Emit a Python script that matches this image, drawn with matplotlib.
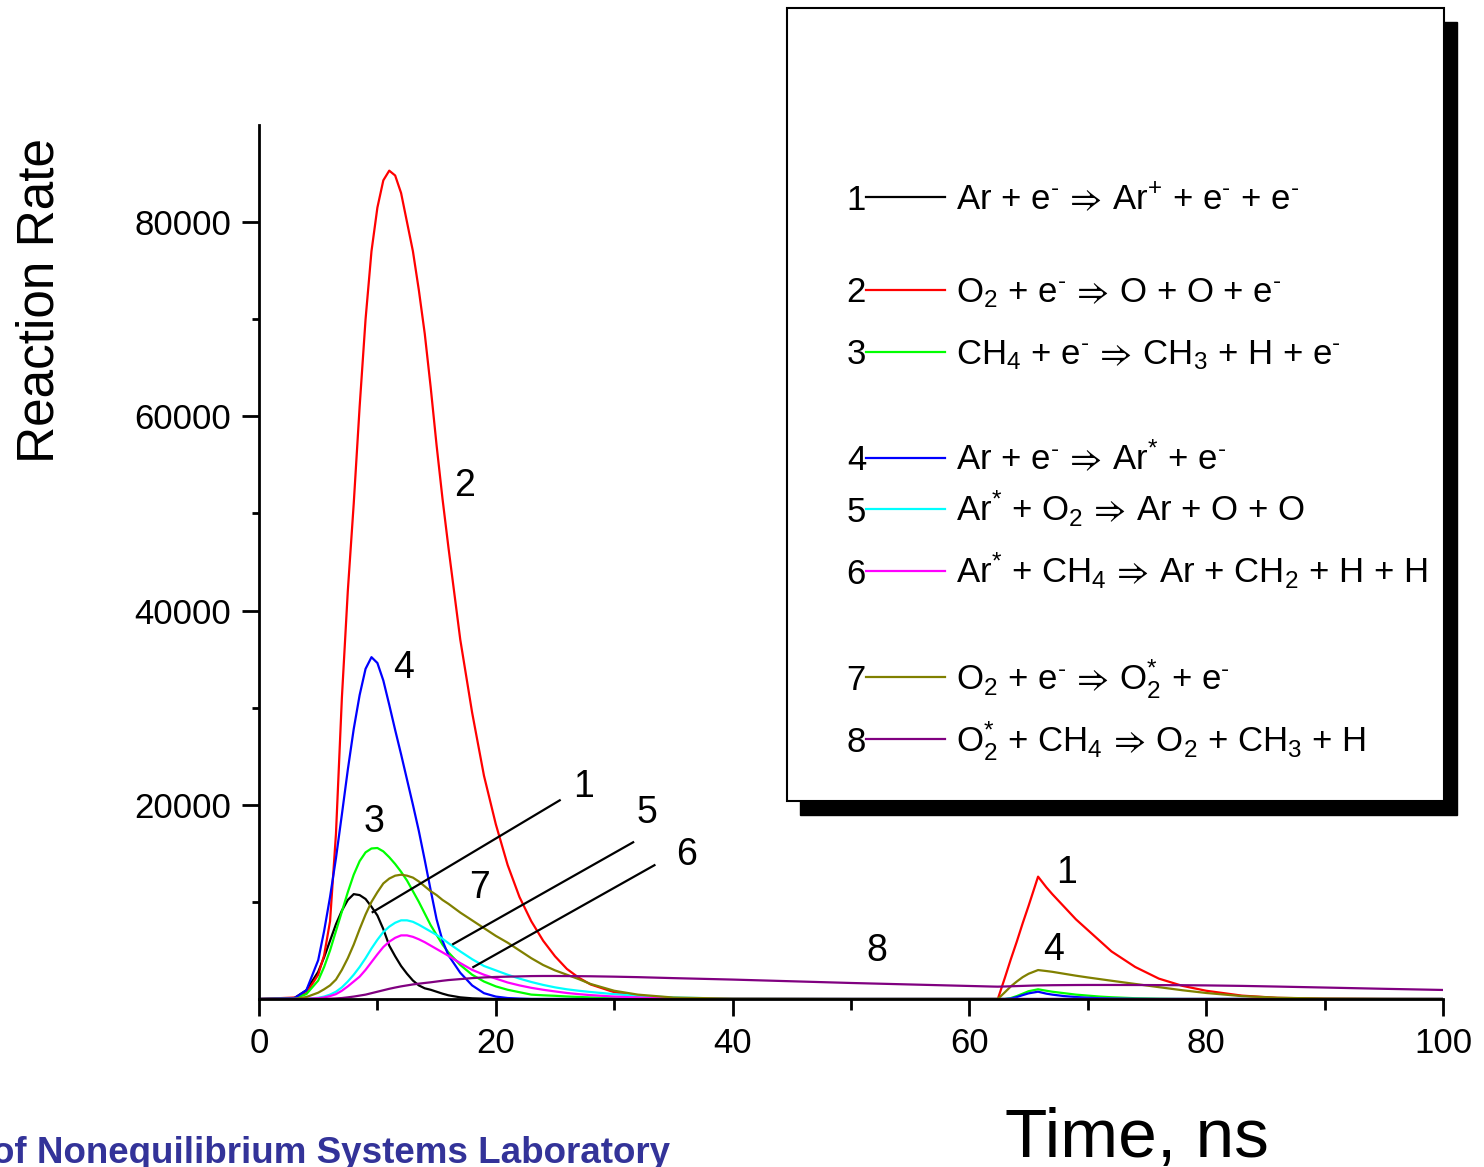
import matplotlib
matplotlib.use("Agg")
import matplotlib.pyplot as plt
from matplotlib.patches import Rectangle
from matplotlib.lines import Line2D

plt.rcParams['font.family'] = ['Liberation Sans', 'DejaVu Sans']
plt.rcParams['mathtext.fontset'] = 'custom'
plt.rcParams['mathtext.rm'] = 'Liberation Sans'
plt.rcParams['mathtext.it'] = 'Liberation Sans'
plt.rcParams['mathtext.default'] = 'regular'

# Tiempo (ns): primer pulso y segundo pulso
t_first = [0, 3, 4, 5, 5.5, 6, 6.5, 7, 7.5, 8,
           8.5, 9, 9.5, 10, 10.5, 11, 11.5, 12, 12.5, 13,
           13.5, 14, 14.5, 15, 15.5, 16, 17, 18, 19, 20,
           21, 22, 23, 24, 25, 26, 27, 28, 30, 32,
           35, 40, 50, 62]
t_second = [62.4, 63, 63.5, 64, 64.5, 65, 65.8, 66.5, 67, 68, 69, 70,
            71, 72, 74, 76, 78, 80, 83, 86, 90, 95, 100]
time = t_first + t_second

# Velocidades de reaccion
rate1 = [0, 100, 900, 2800, 4300, 6000, 7700, 9100, 10200, 10800,
         10700, 10300, 9500, 8600, 7200, 5500, 4400, 3400, 2600, 1900,
         1400, 1100, 950, 750, 550, 380, 170, 70, 30, 10,
         0, 0, 0, 0, 0, 0, 0, 0, 0, 0,
         0, 0, 0, 0] + [0] * 23
rate2 = [0, 150, 600, 2500, 4500, 8000, 17000, 31000, 42000, 51000,
         61000, 70000, 77000, 81500, 84300, 85300, 84800, 83000, 80000, 77000,
         73000, 68500, 63000, 57000, 51500, 46500, 37000, 29500, 23000, 18000,
         13800, 10500, 8000, 6000, 4400, 3100, 2200, 1500, 700, 300,
         100, 20, 0, 0] + \
        [0, 2200, 4100, 5900, 7800, 9600, 12600, 11500, 10800, 9500, 8200, 7100,
         6000, 4900, 3300, 2100, 1350, 850, 350, 120, 40, 10, 0]
rate3 = [0, 80, 500, 1900, 3300, 5000, 7000, 9000, 11000, 12800,
         14200, 15100, 15500, 15550, 15200, 14600, 13900, 13100, 12200, 11100,
         10000, 8800, 7600, 6600, 5600, 4800, 3500, 2500, 1800, 1300,
         950, 700, 450, 380, 330, 260, 210, 160, 90, 50,
         20, 0, 0, 0] + \
        [0, 0, 100, 300, 550, 800, 1000, 850, 750, 600, 450, 350,
         250, 180, 80, 30, 0, 0, 0, 0, 0, 0, 0]
rate4 = [0, 100, 900, 4000, 7000, 10500, 14500, 19000, 23600, 27800,
         31300, 34000, 35200, 34600, 32800, 30300, 27700, 25200, 22600, 20000,
         17300, 14300, 11200, 8200, 6000, 4500, 2700, 1400, 600, 250,
         100, 40, 0, 0, 0, 0, 0, 0, 0, 0,
         0, 0, 0, 0] + \
        [0, 0, 50, 200, 400, 580, 750, 550, 450, 300, 200, 130,
         80, 50, 15, 0, 0, 0, 0, 0, 0, 0, 0]
rate5 = [0, 10, 30, 120, 250, 450, 750, 1200, 1800, 2500,
         3300, 4200, 5200, 6100, 6900, 7450, 7850, 8100, 8100, 7950,
         7650, 7300, 6950, 6600, 6200, 5750, 4900, 4100, 3400, 2950,
         2500, 2100, 1750, 1450, 1200, 1000, 850, 720, 500, 330,
         150, 40, 0, 0] + [0] * 23
rate6 = [0, 5, 20, 80, 160, 300, 500, 850, 1300, 1800,
         2300, 3000, 3800, 4600, 5350, 5900, 6300, 6550, 6550, 6400,
         6150, 5850, 5500, 5150, 4800, 4450, 3700, 3000, 2500, 2100,
         1700, 1400, 1150, 950, 780, 620, 500, 400, 250, 150,
         70, 20, 0, 0] + [0] * 23
rate7 = [0, 20, 200, 650, 1000, 1400, 2000, 3000, 4200, 5600,
         7200, 8700, 10000, 11000, 11900, 12400, 12700, 12800, 12700, 12500,
         12100, 11600, 11100, 10700, 10200, 9800, 8900, 8100, 7300, 6500,
         5800, 5000, 4200, 3500, 2950, 2500, 2050, 1550, 850, 450,
         150, 30, 0, 0] + \
        [0, 700, 1300, 1800, 2250, 2600, 2980, 2880, 2800, 2600, 2400, 2220,
         2050, 1880, 1550, 1220, 900, 620, 300, 130, 40, 10, 0]
rate8 = [0, 0, 0, 10, 20, 30, 60, 100, 170, 250,
         350, 450, 600, 750, 900, 1050, 1180, 1300, 1400, 1500,
         1580, 1650, 1720, 1800, 1880, 1950, 2050, 2150, 2220, 2270,
         2300, 2330, 2360, 2370, 2370, 2360, 2350, 2340, 2300, 2250,
         2150, 2000, 1650, 1280] + \
        [1270, 1290, 1310, 1330, 1350, 1370, 1400, 1410, 1420, 1430, 1440, 1445,
         1445, 1445, 1440, 1430, 1420, 1400, 1350, 1280, 1180, 1050, 930]

rates = [rate1, rate2, rate3, rate4, rate5, rate6, rate7, rate8]
colors = ['black', '#FF0000', '#00FF00', '#0000FF', '#00FFFF', '#FF00FF', '#808000', '#800080']
E = r'e$^{\text{-}}$'
ARROW = r'$\,\Rightarrow\,$'
reactions = [
    'Ar + ' + E + ARROW + 'Ar$^{+}$ + ' + E + ' + ' + E,
    'O$_{2}$ + ' + E + ARROW + 'O + O + ' + E,
    'CH$_{4}$ + ' + E + ARROW + 'CH$_{3}$ + H + ' + E,
    'Ar + ' + E + ARROW + 'Ar$^{*}$ + ' + E,
    'Ar$^{*}$ + O$_{2}$' + ARROW + 'Ar + O + O',
    'Ar$^{*}$ + CH$_{4}$' + ARROW + 'Ar + CH$_{2}$ + H + H',
    'O$_{2}$ + ' + E + ARROW + 'O$_{2}^{*}$ + ' + E,
    'O$_{2}^{*}$ + CH$_{4}$' + ARROW + 'O$_{2}$ + CH$_{3}$ + H',
]

# Etiquetas numericas sobre las curvas (texto, t, valor)
curve_labels = [('2', 17.4, 52850), ('4', 12.2, 34040), ('3', 9.7, 18200),
                ('1', 27.4, 21800), ('5', 32.8, 19130), ('6', 36.1, 14800),
                ('7', 18.6, 11410), ('8', 52.2, 4940), ('1', 68.2, 12960),
                ('4', 67.1, 5040)]
# Lineas guia (t0, v0, t1, v1)
leader_lines = [(25.4, 20460, 9.6, 8950), (31.6, 16140, 16.4, 5660),
                (33.4, 13780, 18.1, 3290)]

W, H = 1484, 1167
fig = plt.figure(figsize=(W / 100, H / 100), dpi=100)
ax = fig.add_axes([259 / W, 1 - 999 / H, (1443 - 259) / W, (999 - 125) / H])

for r, c in zip(rates, colors):
    ax.plot(time, r, color=c, lw=1.6)

for x0, y0, x1, y1 in leader_lines:
    ax.plot([x0, x1], [y0, y1], color='black', lw=1.6)
for s, x, y in curve_labels:
    ax.text(x, y, s, fontsize=27, ha='center', va='center')

ax.set_xlim(0, 100)
ax.set_ylim(0, 90000)
ax.set_xticks([0, 20, 40, 60, 80, 100])
ax.set_xticks([10, 30, 50, 70, 90], minor=True)
ax.set_yticks([20000, 40000, 60000, 80000])
ax.set_yticks([10000, 30000, 50000, 70000], minor=True)
ax.spines['top'].set_visible(False)
ax.spines['right'].set_visible(False)
ax.spines['left'].set_linewidth(2)
ax.spines['bottom'].set_linewidth(2)
ax.tick_params(axis='both', which='major', direction='out', length=12, width=2, labelsize=25)
ax.tick_params(axis='x', which='major', pad=8)
ax.tick_params(axis='y', which='major', pad=8)
ax.tick_params(axis='x', which='minor', direction='out', length=8, width=2)
ax.tick_params(axis='y', which='minor', direction='out', length=5, width=2)

# Cuadro de leyenda con sombra
fig.patches.append(Rectangle((800 / W, 1 - 815 / H), (1457 - 800) / W, (815 - 22) / H,
                             transform=fig.transFigure, facecolor='black', edgecolor='black',
                             zorder=5))
fig.patches.append(Rectangle((787 / W, 1 - 801 / H), (1444 - 787) / W, (801 - 8) / H,
                             transform=fig.transFigure, facecolor='white', edgecolor='black',
                             lw=1.5, zorder=6))

rows = [197, 290, 352, 458, 509, 571, 677, 739]
for i, (yy, c, txt) in enumerate(zip(rows, colors, reactions)):
    yb = 1 - (yy + 12.5) / H
    fig.text(866 / W, yb, str(i + 1), fontsize=25, ha='right', va='baseline', zorder=7)
    fig.lines.append(Line2D([866 / W, 945 / W], [1 - yy / H, 1 - yy / H],
                            transform=fig.transFigure, color=c, lw=1.6, zorder=7))
    fig.text(956 / W, yb, txt, fontsize=25, ha='left', va='baseline', zorder=7)

fig.text(40 / W, 1 - 301 / H, 'Reaction Rate', fontsize=37, rotation=90,
         ha='center', va='center')
fig.text(1137 / W, 1 - 1157 / H, 'Time, ns', fontsize=50, ha='center', va='baseline')
fig.text(-8 / W, 1 - 1163 / H, 'of Nonequilibrium Systems Laboratory', fontsize=26.5,
         fontweight='bold', color='#333399', ha='left', va='baseline')

fig.savefig('out.png', dpi=100)
